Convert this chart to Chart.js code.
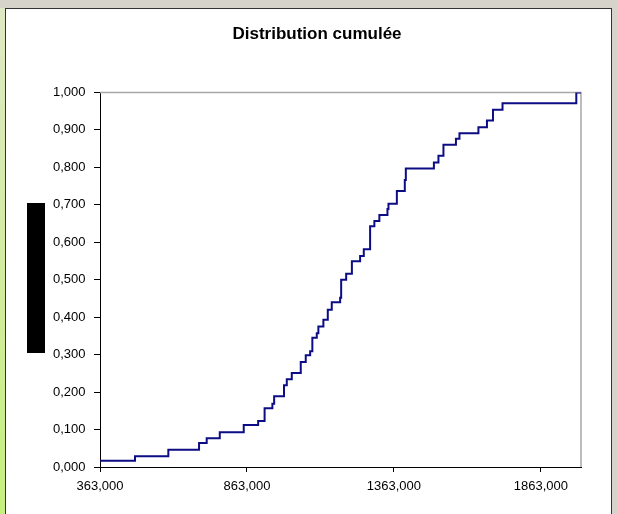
<!DOCTYPE html>
<html>
<head>
<meta charset="utf-8">
<script src="https://cdn.jsdelivr.net/npm/chart.js@4.4.1/dist/chart.umd.min.js"></script>
<style>
  body { margin: 0; width: 617px; height: 514px; background: #d6d3ca; position: relative; overflow: hidden; }
  #strip { position: absolute; left: 0; top: 8px; width: 5px; height: 506px; background: linear-gradient(#dfe8c4, #c6f07e); }
  #panel { position: absolute; left: 5px; top: 8px; width: 605px; height: 506px; background: #fff;
           border-left: 1px solid #333; border-top: 1px solid #333; border-right: 1px solid #333; }
  #hidden { position: absolute; left: 27px; top: 203px; width: 18px; height: 150px; background: #000; }
</style>
</head>
<body>
<div id="strip"></div>
<div id="panel"><canvas id="cumul" width="605" height="505"></canvas></div>
<div id="hidden"></div>
<script>
// valeurs (sauts de la fonction de repartition)
var jumpX = [363, 482, 595.5, 700, 726, 770.5, 852, 901, 923, 949.5, 955.5, 989, 998.5, 1015.5,
  1046, 1063, 1078, 1085.5, 1100.5, 1106, 1123, 1138, 1151.5, 1180, 1183.5, 1200.5, 1220, 1248,
  1260.5, 1282, 1296.5, 1313.5, 1341, 1344.5, 1373, 1400, 1403.5, 1499, 1514.5, 1531.5, 1574,
  1586, 1650.5, 1679.5, 1700, 1732.5, 1983.5, 1999.5];
var cumFreq = [0.017, 0.029, 0.046, 0.064, 0.077, 0.093, 0.112, 0.123, 0.157, 0.169, 0.189, 0.218,
  0.234, 0.251, 0.280, 0.298, 0.309, 0.345, 0.357, 0.375, 0.393, 0.420, 0.440, 0.452, 0.500,
  0.516, 0.549, 0.563, 0.581, 0.643, 0.657, 0.673, 0.689, 0.703, 0.737, 0.766, 0.797, 0.813,
  0.831, 0.860, 0.876, 0.891, 0.907, 0.925, 0.954, 0.971, 1.000, 1.000];
var xTicks = [363, 863, 1363, 1863];

var fmt = function (v) { return Number(v).toFixed(3).replace(".", ","); };
var font = { family: "'Liberation Sans', Arial, sans-serif", size: 13 };

// bordure grise haut / droite de la zone de trace
var frame = {
  id: "frame",
  beforeDatasetsDraw: function (chart) {
    var a = chart.chartArea, ctx = chart.ctx;
    ctx.save();
    ctx.strokeStyle = "#a8a8a8";
    ctx.lineWidth = 1.5;
    ctx.beginPath();
    ctx.moveTo(a.left, a.top);
    ctx.lineTo(a.right, a.top);
    ctx.lineTo(a.right, a.bottom);
    ctx.stroke();
    ctx.restore();
  }
};

new Chart("cumul", {
  type: "line",
  data: {
    datasets: [{
      data: jumpX.map(function (x, i) { return { x: x, y: cumFreq[i] }; }),
      stepped: "before",
      borderColor: "#0c0c84",
      borderWidth: 2,
      pointRadius: 0,
      fill: false
    }]
  },
  options: {
    responsive: false,
    animation: false,
    layout: { padding: { left: 47, right: 30, top: 0, bottom: 0 } },
    plugins: {
      legend: { display: false },
      tooltip: { enabled: false },
      title: {
        display: true,
        text: "Distribution cumulée",
        color: "#000",
        font: { family: font.family, size: 17, weight: "bold" },
        padding: { top: 15, bottom: 48 }
      }
    },
    scales: {
      x: {
        type: "linear",
        min: 363,
        max: 1999.5,
        afterBuildTicks: function (scale) { scale.ticks = xTicks.map(function (v) { return { value: v }; }); },
        afterFit: function (scale) { scale.height = 47; },
        grid: { drawOnChartArea: false, tickLength: 5, color: "#000" },
        border: { color: "#000" },
        ticks: { color: "#000", font: font, padding: 7, maxRotation: 0, callback: fmt }
      },
      y: {
        min: 0,
        max: 1,
        afterFit: function (scale) { scale.width = 47; },
        grid: { drawOnChartArea: false, tickLength: 6, color: "#000" },
        border: { color: "#000" },
        ticks: { color: "#000", font: font, crossAlign: "far", stepSize: 0.1, callback: fmt }
      }
    }
  },
  plugins: [frame]
});
</script>
</body>
</html>
